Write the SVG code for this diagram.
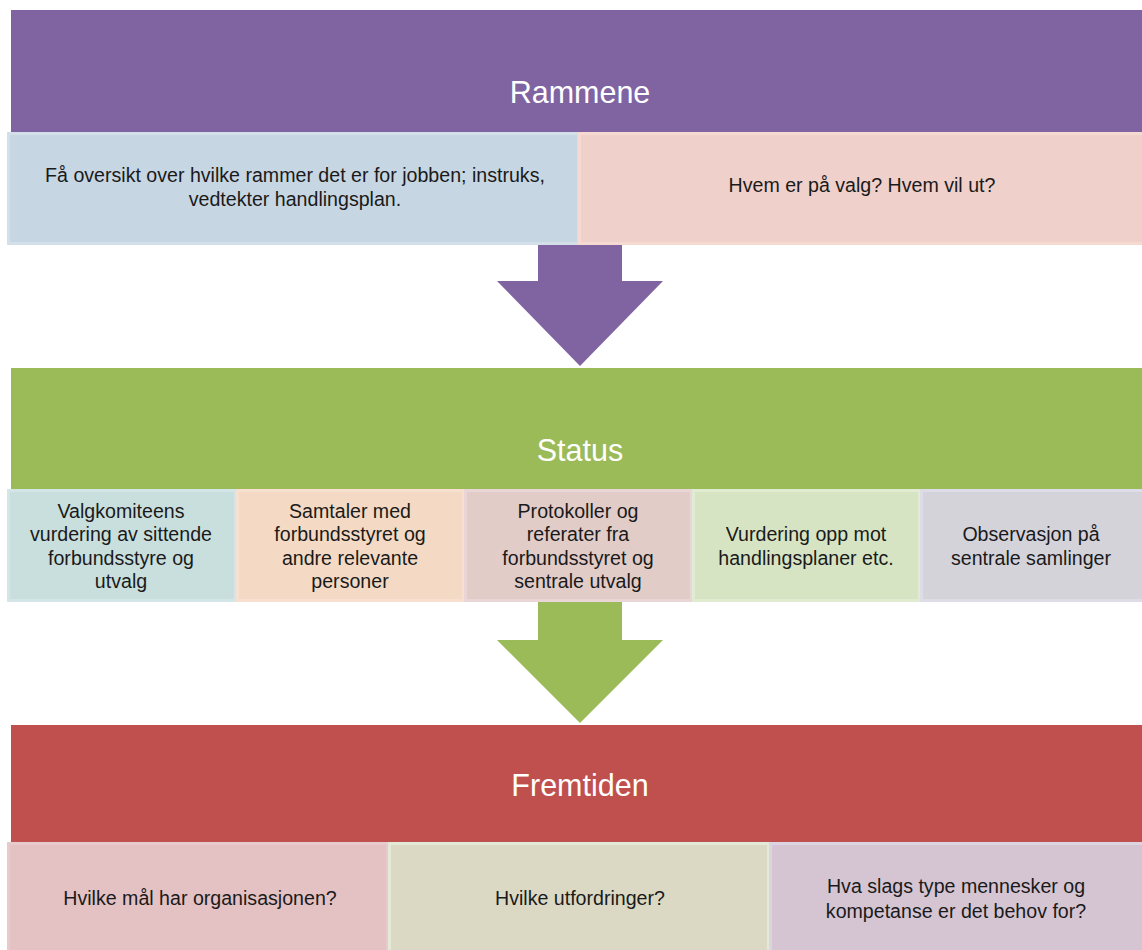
<svg xmlns="http://www.w3.org/2000/svg" width="1142" height="950" viewBox="0 0 1142 950">
<style>
.hdr{font-family:"Liberation Sans",Arial,sans-serif;font-size:30.5px;fill:#fff;text-anchor:middle}
.t{font-family:"Liberation Sans",Arial,sans-serif;font-size:19.6px;fill:#1a1a1a;text-anchor:middle}
.box{stroke-width:3}
</style>
<rect width="1142" height="950" fill="#fff"/>
<g id="connectors">
<polygon points="538,244 622,244 622,281 663,281 580,366 497,281 538,281" fill="#8064A2"/>
<polygon points="538,602 622,602 622,640 663,640 580,723 497,640 538,640" fill="#9BBB59"/>
</g>
<g id="rammene">
<rect x="11" y="10" width="1131" height="123" fill="#8064A2"/>
<text class="hdr" x="580" y="103">Rammene</text>
</g>
<g id="rammene-1">
<rect class="box" x="8.5" y="133.5" width="570" height="110" fill="#C7D6E3" stroke="#D3E0EA"/>
<text class="t" x="295" y="182">Få oversikt over hvilke rammer det er for jobben; instruks,</text>
<text class="t" x="295" y="206">vedtekter handlingsplan.</text>
</g>
<g id="rammene-2">
<rect class="box" x="579.5" y="133.5" width="564" height="110" fill="#F0D0CB" stroke="#F6DAD2"/>
<text class="t" x="862" y="192">Hvem er på valg? Hvem vil ut?</text>
</g>
<g id="status">
<rect x="11" y="368" width="1131" height="123" fill="#9BBB59"/>
<text class="hdr" x="580" y="461">Status</text>
</g>
<g id="status-1">
<rect class="box" x="8.5" y="490.5" width="227" height="110" fill="#C9DFDD" stroke="#D3E5E6"/>
<text class="t" x="121" y="518">Valgkomiteens</text>
<text class="t" x="121" y="541">vurdering av sittende</text>
<text class="t" x="121" y="565">forbundsstyre og</text>
<text class="t" x="121" y="588">utvalg</text>
</g>
<g id="status-2">
<rect class="box" x="237.5" y="490.5" width="226" height="110" fill="#F4DAC4" stroke="#F7E0D0"/>
<text class="t" x="350" y="518">Samtaler med</text>
<text class="t" x="350" y="541">forbundsstyret og</text>
<text class="t" x="350" y="565">andre relevante</text>
<text class="t" x="350" y="588">personer</text>
</g>
<g id="status-3">
<rect class="box" x="465.5" y="490.5" width="226" height="110" fill="#E1CCC8" stroke="#EAD6D6"/>
<text class="t" x="578" y="518">Protokoller og</text>
<text class="t" x="578" y="541">referater fra</text>
<text class="t" x="578" y="565">forbundsstyret og</text>
<text class="t" x="578" y="588">sentrale utvalg</text>
</g>
<g id="status-4">
<rect class="box" x="693.5" y="490.5" width="226" height="110" fill="#D7E4C4" stroke="#E0EBD2"/>
<text class="t" x="806" y="541">Vurdering opp mot</text>
<text class="t" x="806" y="565">handlingsplaner etc.</text>
</g>
<g id="status-5">
<rect class="box" x="921.5" y="490.5" width="222" height="110" fill="#D5D3DA" stroke="#DEDCE6"/>
<text class="t" x="1031" y="541">Observasjon på</text>
<text class="t" x="1031" y="565">sentrale samlinger</text>
</g>
<g id="fremtiden">
<rect x="11" y="725" width="1131" height="118" fill="#C0504D"/>
<text class="hdr" x="580" y="796">Fremtiden</text>
</g>
<g id="fremtiden-1">
<rect class="box" x="8.5" y="843.5" width="379" height="110" fill="#E4C1C2" stroke="#E8CACC"/>
<text class="t" x="200" y="905">Hvilke mål har organisasjonen?</text>
</g>
<g id="fremtiden-2">
<rect class="box" x="389.5" y="843.5" width="379" height="110" fill="#DBD9C4" stroke="#E2E9D6"/>
<text class="t" x="580" y="905">Hvilke utfordringer?</text>
</g>
<g id="fremtiden-3">
<rect class="box" x="770.5" y="843.5" width="373" height="110" fill="#D5C5D3" stroke="#DCD4E0"/>
<text class="t" x="956" y="893">Hva slags type mennesker og</text>
<text class="t" x="956" y="918">kompetanse er det behov for?</text>
</g>
</svg>
